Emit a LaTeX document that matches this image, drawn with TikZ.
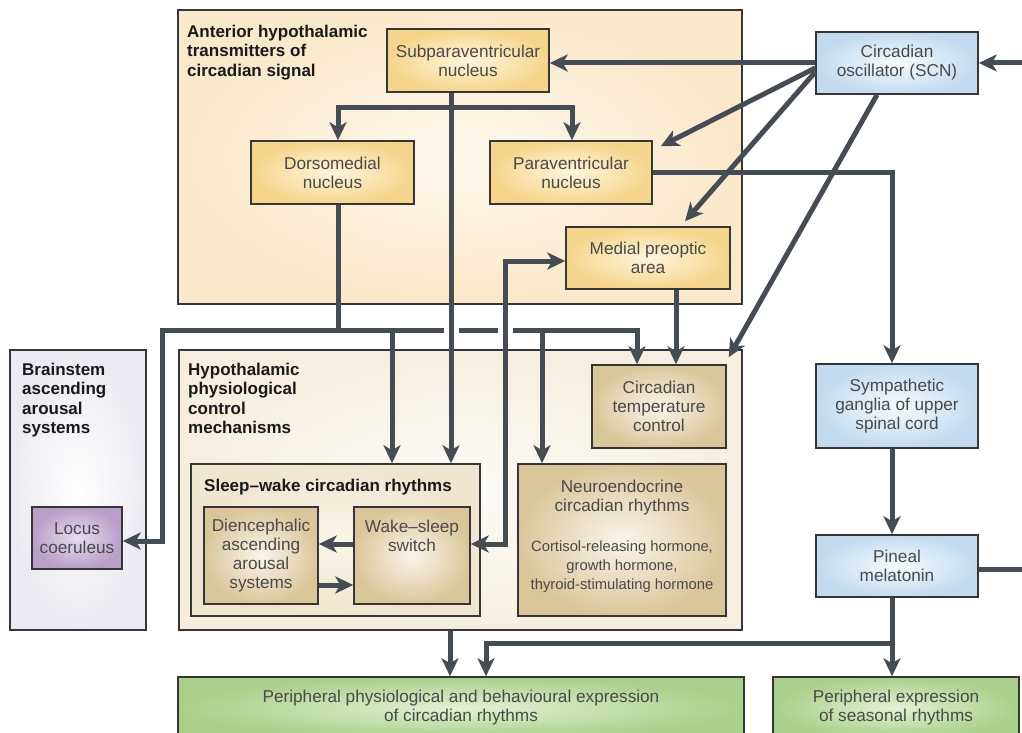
\documentclass[tikz,border=0pt]{standalone}
\usepackage{fontspec}
\setmainfont{Liberation Sans}
\usetikzlibrary{arrows.meta,calc}
\definecolor{ln}{HTML}{464C54}
\definecolor{bd}{HTML}{363636}
\definecolor{tx}{HTML}{4A4A4A}
\definecolor{tt}{HTML}{1A1A1A}
\definecolor{antfill}{HTML}{FAE8CA}
\definecolor{antin}{HTML}{FEF8EC}
\definecolor{yin}{HTML}{FFF5DC}
\definecolor{yout}{HTML}{F5D58C}
\definecolor{hypin}{HTML}{FDFBF7}
\definecolor{hypout}{HTML}{F6EFE0}
\definecolor{swin}{HTML}{FAF5EA}
\definecolor{swout}{HTML}{F0E5CE}
\definecolor{tin}{HTML}{FAF5EA}
\definecolor{tout}{HTML}{DAC69B}
\definecolor{bsin}{HTML}{FFFFFF}
\definecolor{bsout}{HTML}{EDE9F2}
\definecolor{lin}{HTML}{E6DCEE}
\definecolor{lout}{HTML}{B89FCA}
\definecolor{bin}{HTML}{F6FAFE}
\definecolor{bout}{HTML}{C2DBF0}
\definecolor{gin}{HTML}{E2F1D3}
\definecolor{gout}{HTML}{A9CF8A}

\newcommand\mynf{\fontsize{17.2}{19}\selectfont}
\newcommand\mytf{\fontsize{17}{19.3}\selectfont}
\newcommand\mysm{\fontsize{14.8}{19}\selectfont}

\tikzset{
 box/.style={draw=bd, line width=1.5pt, inner sep=0pt, align=center, text=tx, font=\mynf},
 ybox/.style={box, inner color=yin, outer color=yout},
 tbox/.style={box, inner color=tin, outer color=tout},
 bbox/.style={box, inner color=bin, outer color=bout},
 gbox/.style={box, inner color=gin, outer color=gout},
 lbox/.style={box, inner color=lin, outer color=lout},
 region/.style={draw=bd, line width=1.5pt, inner sep=0pt},
 ttl/.style={anchor=north west, align=left, inner sep=0pt, text=tt, font=\mytf\bfseries},
 txt/.style={align=center, inner sep=0pt, text=tx, font=\mynf},
 tip/.tip={Stealth[length=18pt,width=17pt,inset=5pt]},
 conn/.style={draw=ln, line width=5pt, -tip},
 conntwo/.style={draw=ln, line width=5pt, tip-tip},
 plain/.style={draw=ln, line width=5pt},
 gap/.style={fill=white, draw=none},
 sz/.style n args={2}{minimum width=#1pt, minimum height=#2pt},
}

\begin{document}
\begin{tikzpicture}[x=1pt,y=-1pt]
\useasboundingbox (0,0) rectangle (1022,733);

% regions
\node[region, inner color=antin, outer color=antfill, sz={564}{294}] (ant) at (460,157) {};
\node[region, inner color=bsin, outer color=bsout, sz={136}{280}] (bs) at (78,490) {};
\node[region, inner color=hypin, outer color=hypout, sz={563}{280}] (hyp) at (460.5,490) {};
\node[region, inner color=swin, outer color=swout, sz={289}{152}] (sw) at (335.5,540) {};

% titles
\node[ttl] (antt) at (187,25) {Anterior hypothalamic\\transmitters of\\circadian signal};
\node[ttl] (bst) at (22,363) {Brainstem\\ascending\\arousal\\systems};
\node[ttl] (hypt) at (188,363) {Hypothalamic\\physiological\\control\\mechanisms};
\node[ttl] (swt) at (204,479) {Sleep–wake circadian rhythms};

% nodes
\node[ybox, sz={162}{63}] (spvn) at (468,60.5) {Subparaventricular\\nucleus};
\node[ybox, sz={163}{63}] (dmn) at (332.5,172.5) {Dorsomedial\\nucleus};
\node[ybox, sz={162}{63}] (pvn) at (571,172.5) {Paraventricular\\nucleus};
\node[ybox, sz={164}{62}] (mpo) at (648,258) {Medial preoptic\\area};
\node[bbox, sz={162}{62}] (scn) at (897,63) {Circadian\\oscillator (SCN)};
\node[lbox, sz={90}{62}] (lc) at (77,538) {Locus\\coeruleus};
\node[tbox, sz={134}{83}] (temp) at (659,406.5) {Circadian\\temperature\\control};
\node[tbox, sz={114}{97}] (dien) at (261,555.5) {Diencephalic\\ascending\\arousal\\systems};
\node[tbox, sz={116}{97}] (wss) at (412,555.5) {};
\node[txt, anchor=north] (wsst) at (412,520) {Wake–sleep\\switch};
\node[tbox, sz={208}{152}] (neuro) at (622,540) {};
\node[txt, anchor=north] (neurot) at (622,480) {Neuroendocrine\\circadian rhythms\\[21pt]{\mysm Cortisol-releasing hormone,}\\{\mysm growth hormone,}\\{\mysm thyroid-stimulating hormone}};
\node[bbox, sz={162}{84}] (symp) at (897,406) {Sympathetic\\ganglia of upper\\spinal cord};
\node[bbox, sz={162}{62}] (pin) at (897,566) {Pineal\\melatonin};
\node[gbox, sz={566}{62}] (pp) at (461,708) {Peripheral physiological and behavioural expression\\of circadian rhythms};
\node[gbox, sz={246}{62}] (seas) at (896,708) {Peripheral expression\\of seasonal rhythms};

% helper coordinates
\coordinate (busy) at (0,330);
\coordinate (lx) at (162,0);
\coordinate (mx) at (505,0);
\coordinate (edge) at (1024,0);
\coordinate (xs) at ($(spvn.south)+(-17,0)$);
\coordinate (split) at ($(spvn.south)+(-17,15)$);
\coordinate (xd) at ($(dmn.south)+(5.5,0)$);
\coordinate (xt) at ($(temp.north)+(-22,0)$);
\coordinate (xsw) at ($(sw.north)+(56.5,0)$);
\coordinate (xn) at ($(neuro.north)+(-80,0)$);
\coordinate (xm) at ($(mpo.south)+(28,0)$);
\coordinate (ws1) at ($(wss.east)+(0,-11.5)$);
\coordinate (ws2) at ($(wss.west)+(0,-11.5)$);
\coordinate (di1) at ($(dien.east)+(0,29.5)$);
\coordinate (mw) at ($(mpo.west)+(0,3)$);
\coordinate (xr) at ($(symp.north)+(-5,0)$);
\coordinate (pb) at ($(pin.south)+(-5,46)$);
\coordinate (xh) at ($(hyp.south)+(-10.5,0)$);
\coordinate (pe) at ($(pin.east)+(0,3)$);

% SCN outputs
\draw[conn] (scn.west) -- (scn.west -| spvn.east);
\draw[conn] ($(scn.west)+(0,5)$) -- ($(pvn.north east)+(8,6)$);
\draw[conn] ($(scn.west)+(0,9)$) -- ($(mpo.north)+(37,-5)$);
\draw[conn] ($(scn.south)+(-20,0)$) -- ($(temp.north east)+(2,-7)$);

% subparaventricular split
\draw[conn] (split) -| ($(dmn.north)+(5.5,0)$);
\draw[conn] (split) -| ($(pvn.north)+(1,0)$);

% dorsomedial bus
\draw[conn] (xd) -- (xd |- busy) -| (xt);
\draw[conn] (xd |- busy) -- (lx |- busy) |- ($(lc.east)+(0,3)$);
\draw[conn] (xsw |- busy) -- (xsw);
\draw[conn] (xn |- busy) -- (xn);

% crossing gaps
\path[gap] (xs |- busy) ++(-7.5,-5) rectangle ++(15,10);
\path[gap] (mx |- busy) ++(-7.5,-5) rectangle ++(15,10);

% verticals over the bus
\draw[conn] (xs) -- (xs |- sw.north);
\draw[conntwo] (ws1) -- (mx |- ws1) -- (mx |- mw) -- (mw);

% MPO to temperature
\draw[conn] (xm) -- (xm |- temp.north);

% sleep-wake internal
\draw[conn] (ws2) -- (ws2 -| dien.east);
\draw[conn] (di1) -- (di1 -| wss.west);

% right chain
\draw[conn] (pvn.east) -| (xr);
\draw[conn] ($(symp.south)+(-5,0)$) -- ($(pin.north)+(-5,0)$);
\draw[conn] (pb |- pin.south) -- (pb |- seas.north);
\draw[conn] (pb) -| ($(pp.north)+(25,0)$);
\draw[conn] (xh) -- (xh |- pp.north);
\draw[plain] (pe) -- (edge |- pe);
\draw[conn] (edge |- scn.east) -- (scn.east);
\end{tikzpicture}
\end{document}
